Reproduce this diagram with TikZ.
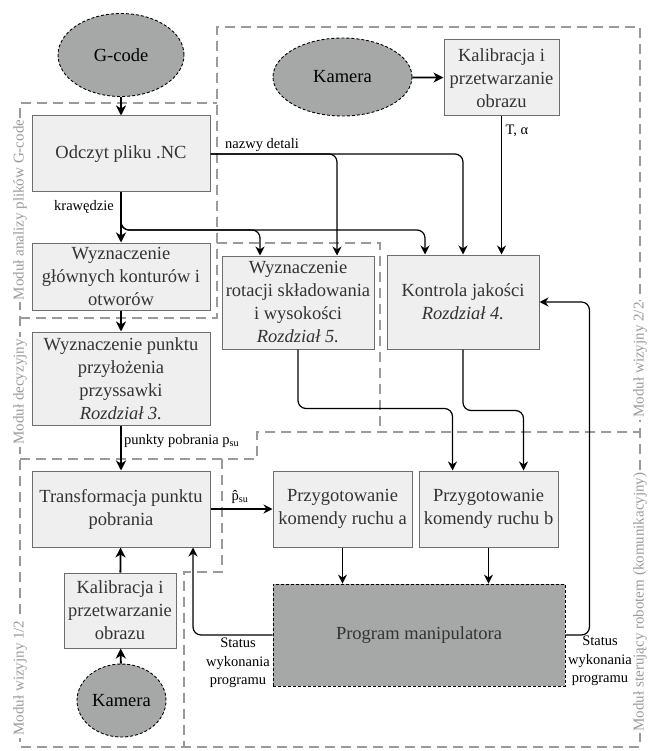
\documentclass[tikz,border=0pt]{standalone}
\usepackage{fontspec}
\setmainfont{Liberation Serif}
\usetikzlibrary{arrows.meta,shapes.geometric}
\definecolor{boxfill}{HTML}{EFEFEF}
\definecolor{boxdraw}{HTML}{6E6E6E}
\definecolor{darkfill}{HTML}{A6A8A8}
\definecolor{grpgray}{HTML}{9A9A9A}
\definecolor{txt}{HTML}{333333}
\begin{document}
\begin{tikzpicture}[x=1pt,y=-1pt,
  box/.style={draw=boxdraw, fill=boxfill, line width=1pt, inner sep=0pt, align=center, text=txt,
              font=\fontsize{18.5}{23}\selectfont},
  ell/.style={ellipse, draw=black, fill=darkfill, line width=0.9pt, dash pattern=on 3pt off 2pt,
              inner sep=0pt, font=\fontsize{18.5}{23}\selectfont},
  prog/.style={draw=black, fill=darkfill, line width=0.9pt, dash pattern=on 3pt off 2pt,
              inner sep=0pt, text=txt, font=\fontsize{18.5}{23}\selectfont},
  lbl/.style={font=\fontsize{14.5}{18.5}\selectfont, inner sep=0pt, align=center},
  grp/.style={draw=grpgray, line width=1.2pt, dash pattern=on 10pt off 6pt},
  grplabel/.style={font=\fontsize{15}{18}\selectfont, text=grpgray, fill=white, rotate=90, inner sep=2pt},
  thk/.style={draw=black, line width=1.8pt, -{Stealth[length=10pt,width=10pt,inset=3pt]}},
  thn/.style={draw=black, line width=1.2pt, rounded corners=8pt, -{Stealth[length=9pt,width=9pt,inset=3pt]}}
]
\useasboundingbox[fill=white] (0,0) rectangle (652,751);

% group outlines
\draw[grp] (217,243) -- (217,27) -- (640,27) -- (640,747) -- (20,747) -- (20,103) -- (217,103);
\draw[grp] (20,318) -- (217,318) -- (217,243) -- (380,243) -- (380,432);
\draw[grp] (20,459) -- (257,459) -- (257,432) -- (640,432);
\draw[grp] (222,459) -- (222,572) -- (184,572) -- (184,747);

\node[grplabel] (ga) at (20,210) {Moduł analizy plików G-code};
\node[grplabel] (gd) at (20,392) {Moduł decyzyjny};
\node[grplabel] (gw1) at (20,678) {Moduł wizyjny 1/2};
\node[grplabel] (gw2) at (640,360) {Moduł wizyjny 2/2};
\node[grplabel] (gr) at (640,602) {Moduł sterujący robotem (komunikacyjny)};

% nodes
\node[ell, minimum width=126pt, minimum height=83pt] (gcode) at (121,55) {G-code};
\node[ell, minimum width=139pt, minimum height=78pt] (kamtop) at (342.5,77) {Kamera};
\node[box, minimum width=115pt, minimum height=76pt] (kaltop) at (501.5,78) {Kalibracja i\\przetwarzanie\\obrazu};
\node[box, minimum width=178pt, minimum height=76pt] (odczyt) at (121,154) {Odczyt pliku .NC};
\node[box, minimum width=178pt, minimum height=67pt] (glowne) at (121,276.5) {Wyznaczenie\\głównych konturów i\\otworów};
\node[box, minimum width=178pt, minimum height=93pt] (punkt) at (121,378.5) {Wyznaczenie punktu\\przyłożenia\\przyssawki\\\textit{Rozdział 3.}};
\node[box, minimum width=152pt, minimum height=93pt] (rot) at (298,302.5) {Wyznaczenie\\rotacji składowania\\i wysokości\\\textit{Rozdział 5.}};
\node[box, minimum width=152pt, minimum height=94pt] (kontr) at (463,302) {Kontrola jakości\\\textit{Rozdział 4.}};
\node[box, minimum width=178pt, minimum height=76pt] (transf) at (121,509) {Transformacja punktu\\pobrania};
\node[box, minimum width=139pt, minimum height=76pt] (prza) at (342.5,509) {Przygotowanie\\komendy ruchu a};
\node[box, minimum width=139pt, minimum height=76pt] (przb) at (488.5,509) {Przygotowanie\\komendy ruchu b};
\node[box, minimum width=112pt, minimum height=75pt] (kalbot) at (120,610.5) {Kalibracja i\\przetwarzanie\\obrazu};
\node[prog, minimum width=292pt, minimum height=102pt] (prog) at (419,635) {Program manipulatora};
\node[ell, minimum width=89pt, minimum height=73pt] (kambot) at (121.5,700.5) {Kamera};

% connectors
\draw[thk] (gcode) -- (odczyt);
\draw[thk] (kamtop) -- (kaltop);
\coordinate (kr) at (121,230);
\draw[thn] (odczyt.south) -- (kr) -| ([xshift=-38pt]rot.north);
\draw[thn] (odczyt.south) -- (kr) -| ([xshift=-38pt]kontr.north);
\draw[thk] (odczyt) -- (glowne);
\draw[thn] (odczyt.east) -| ([xshift=39pt]rot.north);
\draw[thn] (odczyt.east) -| (kontr.north);
\draw[thn] (kaltop.south) -- (kaltop.south |- kontr.north);
\draw[thk] (glowne) -- (punkt);
\draw[thk] (punkt) -- (transf);
\draw[thn] (transf.east) -- (prza.west);
\draw[thk] (kalbot) -- (transf);
\draw[thk] (kambot) -- (kalbot);
\draw[thn] (rot.south) -- ++(0,59) -| ([xshift=-36pt]przb.north);
\draw[thn] (kontr.south) -- ++(0,61) -| ([xshift=35pt]przb.north);
\draw[thn] (prza) -- (prza |- prog.north);
\draw[thn] (przb) -- (przb |- prog.north);
\draw[thn] (prog.east) -- ++(24,0) |- (kontr.east);
\draw[thn] (prog.west) -| ([xshift=72pt]transf.south);

% labels
\node[lbl] (lnazwy) at (262,145) {nazwy detali};
\node[lbl] (lkraw) at (84,207) {krawędzie};
\node[lbl] (lT) at (517,131) {T, α};
\node[lbl, anchor=west] (lpkt) at (124,441) {punkty pobrania p\textsubscript{su}};
\node[lbl] (lphat) at (240,497) {\^{p}\textsubscript{su}};
\node[lbl] (lstat1) at (238,663) {Status\\wykonania\\programu};
\node[lbl] (lstat2) at (600,661) {Status\\wykonania\\programu};
\end{tikzpicture}
\end{document}
